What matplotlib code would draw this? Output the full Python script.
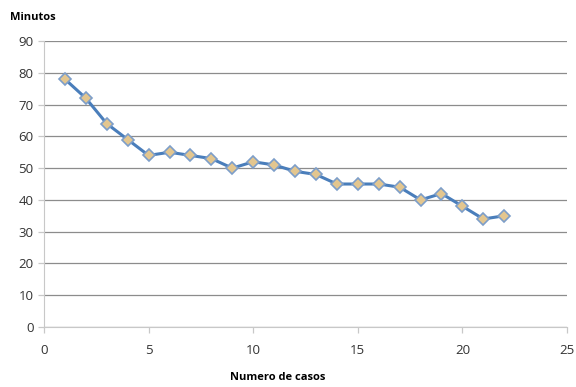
import matplotlib
matplotlib.use("Agg")
import matplotlib.pyplot as plt

casos = list(range(1, 23))
minutos = [78, 72, 64, 59, 54, 55, 54, 53, 50, 52, 51, 49, 48, 45, 45, 45, 44, 40, 42, 38, 34, 35]

plt.rcParams['font.family'] = ['Open Sans', 'DejaVu Sans']

fig = plt.figure(figsize=(5.76, 3.87), dpi=100)
ax = fig.add_axes([0.0764, 0.155, 0.908, 0.739])

ax.plot(casos, minutos, color='#4a7ebb', lw=2.2, marker='D', ms=6.5,
        mfc='#e3c68f', mec='#7d9ec9', mew=1.2, zorder=3)

ax.set_xlim(0, 25)
ax.set_ylim(0, 90)
ax.set_xticks(range(0, 26, 5))
ax.set_yticks(range(0, 91, 10))
ax.grid(axis='y', color='#8c8c8c', lw=0.9)
ax.set_axisbelow(True)
for s in ['top', 'right']:
    ax.spines[s].set_visible(False)
ax.spines['left'].set_color('#c8c8c8')
ax.spines['bottom'].set_color('#c8c8c8')
ax.tick_params(axis='both', colors='#c8c8c8', labelcolor='#333333',
               labelsize=9.5, length=4, width=0.9)
ax.tick_params(axis='x', pad=8)

fig.text(10/576, 1 - 17/387, 'Minutos', fontsize=8, fontweight='bold',
         va='center', ha='left')
fig.text(278/576, 1 - 378/387, 'Numero de casos', fontsize=8,
         fontweight='bold', va='center', ha='center')

fig.savefig('out.png', dpi=100)
